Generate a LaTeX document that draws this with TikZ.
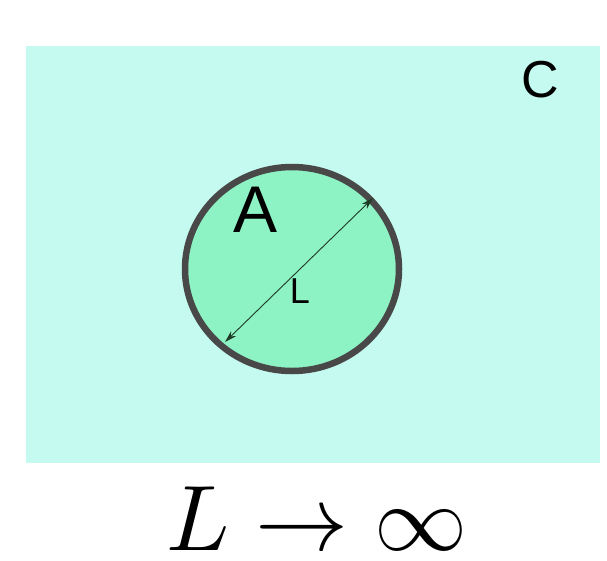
\documentclass[tikz,border=0pt]{standalone}
\usepackage{fontspec}
\setsansfont{Liberation Sans}
\usepackage{tikz}
\usetikzlibrary{arrows.meta,shapes.geometric}
\usepackage{xcolor}
\definecolor{setC}{HTML}{C5FAF0}
\definecolor{setA}{HTML}{8EF3C4}
\definecolor{rim}{HTML}{484848}
\definecolor{ruler}{HTML}{1E3A22}

\begin{document}
\begin{tikzpicture}[x=1pt,y=-1pt,>={Stealth[length=12pt,width=7pt]},line cap=round]
\useasboundingbox (0,0) rectangle (607,560);
\fill[setC] (26,46) rectangle (600,463);
\node[ellipse,draw=rim,fill=setA,line width=6.5pt,inner sep=0pt,minimum width=214pt,minimum height=204pt] (disk) at (292,269) {};
\coordinate (lo) at (225,342);
\coordinate (hi) at (373,198);
\draw[ruler,<->,line width=0.9pt] (lo) -- (hi);
\node[font=\sffamily\fontsize{66}{66}\selectfont,inner sep=0pt] (nameA) at (255.5,209.5) {A};
\node[font=\sffamily\fontsize{36}{36}\selectfont,inner sep=0pt] (nameL) at (300,291) {L};
\node[font=\sffamily\fontsize{52}{52}\selectfont,inner sep=0pt] (nameC) at (540,80) {C};
\node[scale=9.3,inner sep=0pt,anchor=base] (limit) at (317,550) {$L\to\infty$};
\end{tikzpicture}
\end{document}
